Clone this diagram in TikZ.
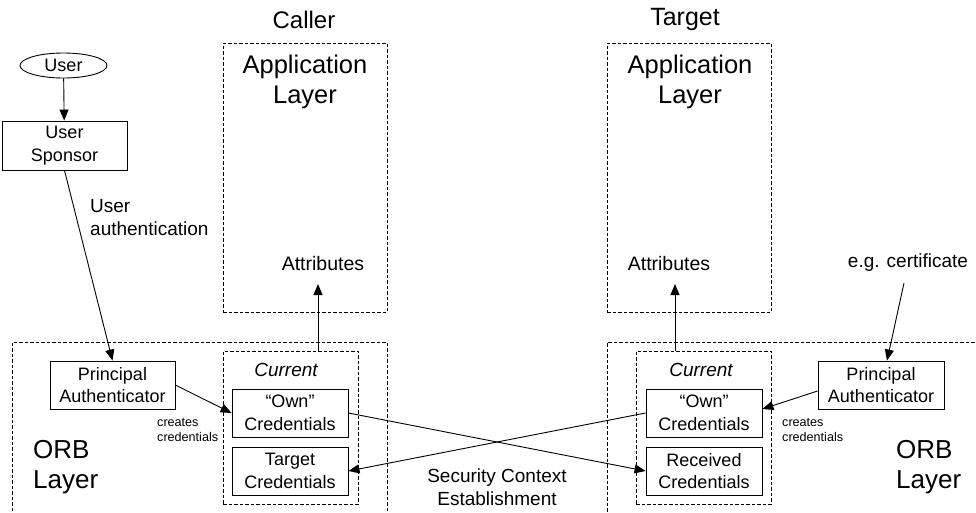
\documentclass[tikz,border=0pt]{standalone}
\usepackage{fontspec}
\setmainfont{Liberation Sans}
\usetikzlibrary{arrows.meta,shapes.geometric,calc}
\begin{document}
\begin{tikzpicture}[x=1pt,y=-1pt,
  sbox/.style={draw, line width=0.9pt, rectangle, inner sep=0pt, align=center,
    font=\fontsize{18}{22.5}\selectfont},
  dbox/.style={draw, line width=0.8pt, dash pattern=on 3.5pt off 2pt, rectangle, inner sep=0pt},
  big/.style={align=center, inner sep=0pt, font=\fontsize{25.5}{30}\selectfont},
  mid/.style={inner sep=0pt, font=\fontsize{19}{23}\selectfont},
  tiny/.style={inner sep=0pt, align=left, font=\fontsize{12.6}{15}\selectfont},
  conn/.style={line width=0.9pt},
  arr/.style={line width=0.9pt, -{Triangle[length=11pt,width=9pt]}}]
\useasboundingbox[fill=white] (0,0) rectangle (976,512);

% containers
\node[dbox, minimum width=164, minimum height=269] (capp) at (305,177.5) {};
\node[dbox, minimum width=164, minimum height=269] (tapp) at (689,177.5) {};
\node[dbox, minimum width=375, minimum height=190] (corb) at (199.5,437) {};
\node[dbox, minimum width=383, minimum height=190] (torb) at (798.5,437) {};
\node[dbox, minimum width=135, minimum height=153] (ccur) at (290.5,427.5) {};
\node[dbox, minimum width=135, minimum height=153] (tcur) at (703.5,427.5) {};

% titles
\node[big, font=\fontsize{24}{29}\selectfont] (caller) at (304,20) {Caller};
\node[big, font=\fontsize{25}{29}\selectfont] (target) at (685,19) {Target};
\node[big] (capptxt) at (305,82) {Application\\Layer};
\node[big] (tapptxt) at (690,82) {Application\\Layer};

% user side
\node[draw, ellipse, line width=0.9pt, minimum width=87, minimum height=25, inner sep=0pt,
  font=\fontsize{18}{22}\selectfont] (user) at (63.5,65.5) {User};
\node[sbox, minimum width=125, minimum height=49] (sponsor) at (64.5,145.5) {User\\Sponsor};
\node[mid, align=left, anchor=west] (uauth) at (90,217.5) {User\\authentication};

% caller ORB
\node[sbox, minimum width=125, minimum height=48] (cpa) at (112.5,385) {Principal\\Authenticator};
\node[sbox, minimum width=116, minimum height=48] (cown) at (290,413) {“Own”\\Credentials};
\node[sbox, minimum width=116, minimum height=48] (ctgt) at (290,471) {Target\\Credentials};
\node[mid, font=\fontsize{19}{23}\selectfont\itshape] (ccurtxt) at (286,370) {Current};
\node[tiny, anchor=west] (ccreate) at (157,430) {creates\\credentials};
\node[big, align=left, anchor=west, font=\fontsize{26}{30}\selectfont] (corbtxt) at (33,467) {ORB\\Layer};
\node[mid, font=\fontsize{19.5}{23}\selectfont] (cattr) at (323,264) {Attributes};

% target ORB
\node[sbox, minimum width=126, minimum height=48] (tpa) at (881,385) {Principal\\Authenticator};
\node[sbox, minimum width=116, minimum height=48] (town) at (704,413) {“Own”\\Credentials};
\node[sbox, minimum width=116, minimum height=48] (trec) at (704,471) {Received\\Credentials};
\node[mid, font=\fontsize{19}{23}\selectfont\itshape] (tcurtxt) at (701,370) {Current};
\node[tiny, anchor=west] (tcreate) at (782,430) {creates\\credentials};
\node[big, align=left, anchor=west, font=\fontsize{26}{30}\selectfont] (torbtxt) at (896,467) {ORB\\Layer};
\node[mid, font=\fontsize{19.5}{23}\selectfont] (tattr) at (669,264) {Attributes};
\node[mid] (cert) at (908,263) {e.g. certificate};

\node[mid, align=center] (sce) at (497,487) {Security Context\\Establishment};

% connectors
\coordinate (ctip) at (318,284);
\coordinate (ttip) at (675,284);
\coordinate (certfoot) at (904,283);

\draw[arr] (user) -- (sponsor);
\draw[arr] (sponsor.south) -- (cpa.north);
\draw[arr] (cpa.east) -- (cown.west);
\draw[arr] (ctip |- ccur.north) -- (ctip);
\draw[arr] (ttip |- tcur.north) -- (ttip);
\draw[arr] (certfoot) -- ([xshift=6pt]tpa.north);
\draw[arr] ([yshift=-6pt]tpa.west) -- ([yshift=4pt]town.east);
\draw[arr] (cown.east) -- (trec.west);
\draw[arr] (town.west) -- (ctgt.east);
\end{tikzpicture}
\end{document}
